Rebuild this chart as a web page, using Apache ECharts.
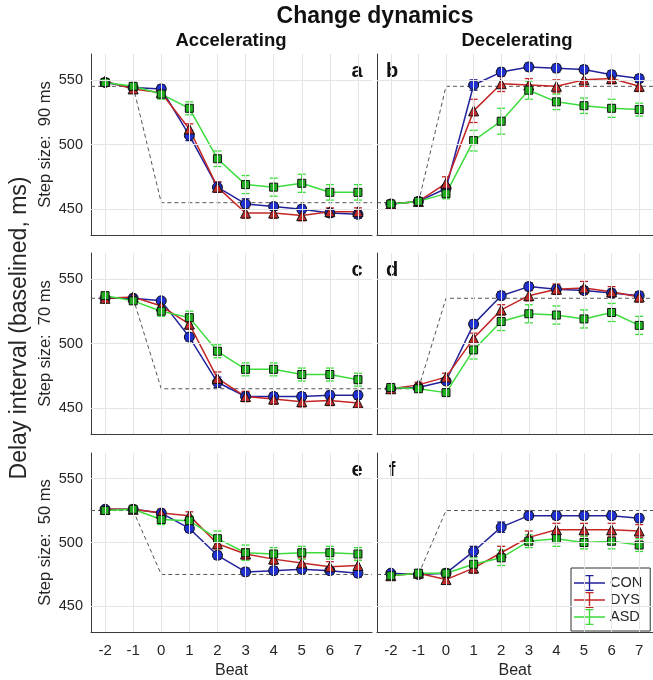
<!DOCTYPE html>
<html>
<head>
<meta charset="utf-8">
<script src="https://cdn.jsdelivr.net/npm/echarts@6/dist/echarts.min.js"></script>
<style>
html, body { margin: 0; padding: 0; background: #fff; }
#chart { width: 653px; height: 680px; }
</style>
</head>
<body>
<div id="chart"></div>
<script>
// beats on the x axis
const beats = [-2, -1, 0, 1, 2, 3, 4, 5, 6, 7];
const yTicks = [450, 500, 550];
const groups = ['CON', 'DYS', 'ASD'];
const stepSizes = [90, 70, 50];
const panelLetters = ['a', 'b', 'c', 'd', 'e', 'f'];

// target (dashed) levels: before and after the change
const targetFrom = [545, 455, 535, 465, 525, 475];
const targetTo = [455, 545, 465, 535, 475, 525];

// panel a: accelerating, 90 ms
const conA = [548, 544, 543, 507, 467, 454, 452, 450, 447, 446];
const dysA = [549, 543, 540, 512, 467, 447, 447, 445, 448, 448];
const asdA = [548, 545, 539, 528, 489, 469, 467, 470, 463, 463];
const conErrA = [2, 2, 3, 4, 4, 4, 3, 3, 3, 3];
const dysErrA = [2, 2, 3, 4, 4, 4, 4, 4, 3, 3];
const asdErrA = [2, 2, 4, 5, 6, 7, 7, 7, 6, 6];

// panel b: decelerating, 90 ms
const conB = [454, 456, 466, 546, 556, 560, 559, 558, 554, 551];
const dysB = [454, 456, 470, 526, 547, 546, 545, 550, 551, 545];
const asdB = [454, 456, 462, 503, 518, 542, 533, 530, 528, 527];
const conErrB = [2, 2, 3, 4, 3, 3, 3, 3, 3, 3];
const dysErrB = [2, 2, 5, 9, 6, 5, 5, 5, 4, 4];
const asdErrB = [2, 2, 4, 8, 10, 7, 6, 6, 7, 5];

// panel c: accelerating, 70 ms
const conC = [535, 535, 533, 505, 470, 459, 459, 459, 460, 460];
const dysC = [535, 536, 529, 515, 473, 459, 457, 455, 456, 454];
const asdC = [537, 533, 525, 520, 494, 480, 480, 476, 476, 472];
const conErrC = [2, 2, 2, 3, 4, 3, 3, 3, 3, 3];
const dysErrC = [2, 2, 3, 4, 5, 4, 4, 4, 4, 4];
const asdErrC = [2, 2, 4, 5, 5, 5, 5, 5, 5, 5];

// panel d: decelerating, 70 ms
const conD = [465, 466, 471, 515, 537, 544, 542, 541, 539, 537];
const dysD = [465, 468, 474, 504, 526, 537, 542, 543, 540, 536];
const asdD = [466, 465, 462, 495, 517, 523, 522, 519, 524, 514];
const conErrD = [2, 2, 2, 3, 3, 3, 3, 3, 3, 3];
const dysErrD = [2, 2, 3, 4, 4, 4, 4, 5, 4, 4];
const asdErrD = [2, 2, 2, 7, 7, 7, 7, 7, 7, 7];

// panel e: accelerating, 50 ms
const conE = [526, 526, 523, 511, 490, 477, 478, 479, 478, 476];
const dysE = [526, 526, 523, 521, 499, 491, 487, 484, 481, 482];
const asdE = [525, 526, 518, 517, 503, 492, 491, 492, 492, 491];
const conErrE = [2, 2, 2, 3, 3, 3, 3, 3, 3, 3];
const dysErrE = [2, 2, 3, 3, 4, 4, 4, 4, 4, 4];
const asdErrE = [2, 2, 4, 4, 6, 6, 5, 5, 5, 5];

// panel f: decelerating, 50 ms
const conF = [476, 475, 476, 493, 512, 521, 521, 521, 521, 519];
const dysF = [474, 476, 471, 480, 492, 504, 510, 510, 510, 509];
const asdF = [474, 476, 476, 483, 488, 501, 503, 500, 501, 498];
const conErrF = [2, 2, 2, 4, 4, 3, 3, 3, 3, 3];
const dysErrF = [2, 2, 3, 4, 5, 5, 5, 5, 5, 5];
const asdErrF = [2, 2, 3, 5, 6, 5, 6, 5, 6, 5];

const panelValues = [
  [conA, dysA, asdA], [conB, dysB, asdB],
  [conC, dysC, asdC], [conD, dysD, asdD],
  [conE, dysE, asdE], [conF, dysF, asdF]
];
const panelErrors = [
  [conErrA, dysErrA, asdErrA], [conErrB, dysErrB, asdErrB],
  [conErrC, dysErrC, asdErrC], [conErrD, dysErrD, asdErrD],
  [conErrE, dysErrE, asdErrE], [conErrF, dysErrF, asdErrF]
];

const FONT = '"Liberation Sans", Arial, sans-serif';
const lineColors = ['#22229c', '#c42626', '#3ddc3d'];
const markerFill = ['#1f2fd0', '#c02a2a', '#22b022'];
const markerShape = ['circle', 'triangle', 'rect'];
const markerSize = [10, 10, 8];

const gridLeft = [91, 377];
const gridWidth = [281, 280];
const gridTop = [54, 253, 453];
const gridHeight = 181;

const chart = echarts.init(document.getElementById('chart'));

function errRender(color) {
  return function (params, api) {
    const x = api.value(0), y = api.value(1), e = api.value(2);
    const lo = api.coord([x, y - e]);
    const hi = api.coord([x, y + e]);
    const w = 4;
    const style = { stroke: color, lineWidth: 1.3 };
    return {
      type: 'group',
      children: [
        { type: 'line', shape: { x1: lo[0], y1: lo[1], x2: hi[0], y2: hi[1] }, style: style },
        { type: 'line', shape: { x1: lo[0] - w, y1: lo[1], x2: lo[0] + w, y2: lo[1] }, style: style },
        { type: 'line', shape: { x1: hi[0] - w, y1: hi[1], x2: hi[0] + w, y2: hi[1] }, style: style }
      ]
    };
  };
}

const grids = [], xAxes = [], yAxes = [], series = [], graphics = [];

for (let r = 0; r < 3; r++) {
  for (let c = 0; c < 2; c++) {
    const i = r * 2 + c;
    grids.push({ left: gridLeft[c], top: gridTop[r], width: gridWidth[c], height: gridHeight });
    xAxes.push({
      gridIndex: i, type: 'value', min: -2.5, max: 7.5, z: 2,
      axisLine: { show: true, onZero: false, lineStyle: { color: '#3a3a3a', width: 1 } },
      axisTick: { show: true, inside: true, length: 4, customValues: beats, lineStyle: { color: '#3a3a3a' } },
      axisLabel: { show: r === 2, customValues: beats, fontSize: 15, color: '#262626', fontFamily: FONT, margin: 11 },
      splitLine: { show: false },
      name: r === 2 ? 'Beat' : '', nameLocation: 'middle', nameGap: 31,
      nameTextStyle: { fontSize: 16, color: '#262626', fontFamily: FONT }
    });
    yAxes.push({
      gridIndex: i, type: 'value', min: 430, max: 570, z: 2,
      axisLine: { show: true, onZero: false, lineStyle: { color: '#3a3a3a', width: 1 } },
      axisTick: { show: true, inside: true, length: 4, customValues: yTicks, lineStyle: { color: '#3a3a3a' } },
      axisLabel: { show: c === 0, customValues: yTicks, fontSize: 14.5, color: '#262626', fontFamily: FONT, margin: 8 },
      splitLine: { show: false },
      name: c === 0 ? 'Step size:  ' + stepSizes[r] + ' ms' : '',
      nameLocation: 'middle', nameGap: 37, nameRotate: 90,
      nameTextStyle: { fontSize: 16.5, color: '#262626', fontFamily: FONT }
    });

    // light grid lines
    series.push({
      type: 'line', xAxisIndex: i, yAxisIndex: i, data: [], silent: true, z: 1,
      markLine: {
        silent: true, symbol: ['none', 'none'], label: { show: false }, animation: false,
        lineStyle: { color: '#e4e4e4', type: 'solid', width: 1 },
        data: beats.map(b => ({ xAxis: b })).concat(yTicks.map(v => ({ yAxis: v })))
      }
    });

    // dashed target line
    series.push({
      type: 'line', xAxisIndex: i, yAxisIndex: i, silent: true, z: 3, symbol: 'none',
      data: [[-2.5, targetFrom[i]], [-1, targetFrom[i]], [0, targetTo[i]], [7.5, targetTo[i]]],
      lineStyle: { color: '#555', type: [4, 3], width: 1 }
    });

    for (let g = 0; g < 3; g++) {
      const vals = panelValues[i][g];
      const errs = panelErrors[i][g];
      series.push({
        type: 'custom', name: groups[g], xAxisIndex: i, yAxisIndex: i, z: 4,
        renderItem: errRender(lineColors[g]),
        data: beats.map((b, k) => [b, vals[k], errs[k]]),
        itemStyle: { color: lineColors[g] }
      });
      series.push({
        type: 'line', name: groups[g], xAxisIndex: i, yAxisIndex: i, z: 4,
        data: beats.map((b, k) => [b, vals[k]]),
        symbol: markerShape[g], symbolSize: markerSize[g],
        lineStyle: { color: lineColors[g], width: 1.5 },
        itemStyle: { color: markerFill[g], borderColor: '#111', borderWidth: 1 }
      });
    }

    graphics.push({
      type: 'text', x: c === 0 ? 357 : 392, y: gridTop[r] + 17,
      style: { text: panelLetters[i], font: 'bold 20px ' + FONT, fill: '#111', align: 'center', verticalAlign: 'middle' }
    });
  }
}

graphics.push(
  { type: 'text', x: 375, y: 17, style: { text: 'Change dynamics', font: 'bold 23px ' + FONT, fill: '#111', align: 'center', verticalAlign: 'middle' } },
  { type: 'text', x: 231, y: 41, style: { text: 'Accelerating', font: 'bold 18.5px ' + FONT, fill: '#111', align: 'center', verticalAlign: 'middle' } },
  { type: 'text', x: 517, y: 41, style: { text: 'Decelerating', font: 'bold 18.5px ' + FONT, fill: '#111', align: 'center', verticalAlign: 'middle' } },
  { type: 'text', x: 20, y: 328, rotation: Math.PI / 2,
    style: { text: 'Delay interval (baselined, ms)', font: '23px ' + FONT, fill: '#262626', align: 'center', verticalAlign: 'middle' } }
);

const legendIcon = 'path://M0,7.3h31v1.4H0z M14.8,0h1.4v16h-1.4z M11.5,0h8v1.3h-8z M11.5,14.7h8v1.3h-8z';

chart.setOption({
  animation: false,
  backgroundColor: '#fff',
  grid: grids,
  xAxis: xAxes,
  yAxis: yAxes,
  legend: {
    orient: 'vertical', left: 571, top: 568,
    backgroundColor: '#fff', borderColor: '#333', borderWidth: 1,
    padding: [7, 8, 6, 3], itemGap: 1, itemWidth: 31, itemHeight: 16,
    textStyle: { fontSize: 14.5, color: '#262626', fontFamily: FONT },
    data: groups.map((name, g) => ({
      name: name, icon: legendIcon,
      itemStyle: { color: lineColors[g], borderWidth: 0 }
    }))
  },
  series: series,
  graphic: graphics
});
</script>
</body>
</html>
